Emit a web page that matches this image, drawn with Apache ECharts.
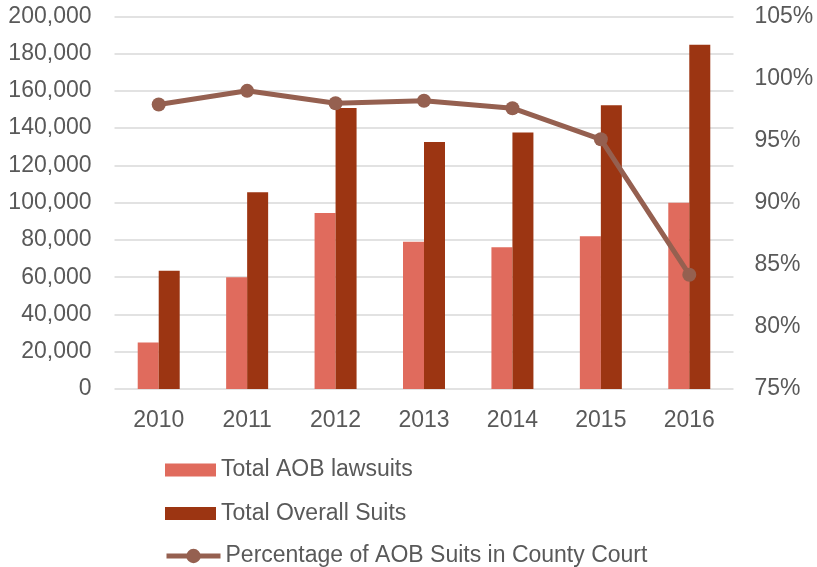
<!DOCTYPE html>
<html>
<head>
<meta charset="utf-8">
<script src="https://cdn.jsdelivr.net/npm/echarts@6/dist/echarts.min.js"></script>
<style>
    html, body { margin: 0; padding: 0; background: #fff; }
    #chart { width: 817px; height: 567px; }
</style>
</head>
<body>
<div id="chart"></div>
<script>
// values
const YEARS = ["2010", "2011", "2012", "2013", "2014", "2015", "2016"]
const AOB_SUITS = [25000, 60000, 94500, 79000, 76000, 82000, 100000]
const OVERALL_SUITS = [63500, 105600, 150800, 132600, 137600, 152300, 184800]
const COUNTY_PCT = [97.9, 99.0, 98.0, 98.2, 97.6, 95.1, 84.2]

const NAMES = ["Total AOB lawsuits", "Total Overall Suits", "Percentage of AOB Suits in County Court"]
const TEXT = "#595959"
const FONT = "Liberation Sans, Arial, sans-serif"
const LINE_COLOR = "#956050"

const myChart = echarts.init(document.getElementById("chart"))

// one legend per row, so the rows sit exactly where they are in the picture
function legendRow(name, center, extra) {
    return Object.assign({
        orient: "vertical",
        left: 165,
        top: center - 13,
        padding: 0,
        data: [{ name: name, icon: "rect" }],
        itemWidth: 51,
        itemHeight: 13,
        itemGap: 0,
        textStyle: { color: TEXT, fontSize: 23, fontFamily: FONT, lineHeight: 26 },
    }, extra || {})
}

myChart.setOption({
    animation: false,
    textStyle: { fontFamily: FONT },
    legend: [
        legendRow(NAMES[0], 470),
        legendRow(NAMES[1], 513.5),
        legendRow(NAMES[2], 556, {
            data: [NAMES[2]],
            left: 164,
            itemWidth: 54,
            itemHeight: 18,
            lineStyle: { width: 5, color: LINE_COLOR },
        }),
    ],
    grid: {
        left: 114.5,
        right: 83.5,
        top: 16.3,
        bottom: 178,
    },
    xAxis: {
        type: "category",
        data: YEARS,
        axisLine: { show: false },
        axisTick: { show: false },
        axisLabel: { color: TEXT, fontSize: 23, margin: 20 },
    },
    yAxis: [
        {
            type: "value",
            min: 0,
            max: 200000,
            interval: 20000,
            axisLine: { show: false },
            axisTick: { show: false },
            splitLine: { lineStyle: { color: "#D9D9D9", width: 1.5 } },
            axisLabel: {
                color: TEXT,
                fontSize: 23,
                margin: 23,
                padding: [3, 0, 0, 0],
                formatter: v => v.toLocaleString("en-US"),
            },
        },
        {
            type: "value",
            min: 75,
            max: 105,
            interval: 5,
            axisLine: { show: false },
            axisTick: { show: false },
            splitLine: { show: false },
            axisLabel: { color: TEXT, fontSize: 23, margin: 21, padding: [3, 0, 0, 0], formatter: "{value}%" },
        },
    ],
    series: [
        {
            name: NAMES[0],
            type: "bar",
            data: AOB_SUITS,
            barWidth: 21,
            barGap: "0%",
            itemStyle: { color: "#E06B5D" },
        },
        {
            name: NAMES[1],
            type: "bar",
            data: OVERALL_SUITS,
            barWidth: 21,
            barGap: "0%",
            itemStyle: { color: "#9C3512" },
        },
        {
            name: NAMES[2],
            type: "line",
            yAxisIndex: 1,
            data: COUNTY_PCT,
            symbol: "circle",
            symbolSize: 14,
            lineStyle: { color: LINE_COLOR, width: 5 },
            itemStyle: { color: LINE_COLOR },
        },
    ],
})
</script>
</body>
</html>
